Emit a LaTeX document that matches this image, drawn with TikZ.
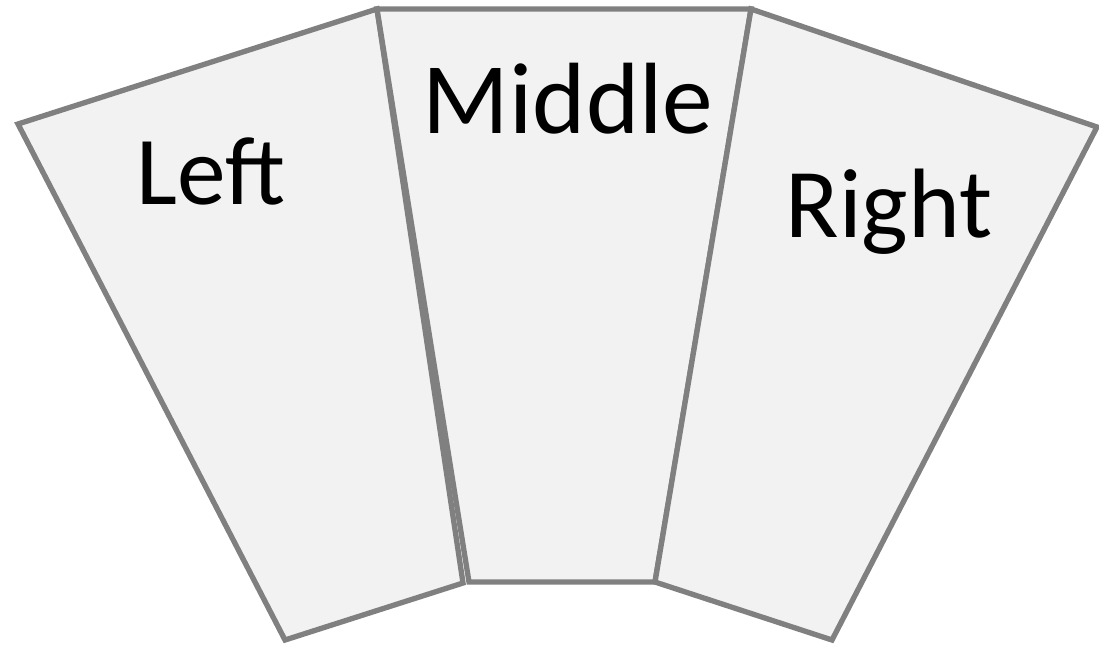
\documentclass[tikz,border=0pt]{standalone}
\usepackage{fontspec}
\setmainfont{Carlito}
\definecolor{panelfill}{RGB}{242,242,242}
\definecolor{paneledge}{RGB}{128,128,128}

\begin{document}
\begin{tikzpicture}[x=0.75pt,y=-0.75pt]
\tikzset{panel/.style={draw=paneledge,fill=panelfill,line width=4pt},
  label/.style={anchor=base,inner sep=0pt,font=\fontsize{#1}{#1}\selectfont}}
\useasboundingbox (0,0) rectangle (1099,647);
\clip (0,0) rectangle (1099,647);
% Left panel
\draw[panel] (18,124) -- (377,9) -- (463,583) -- (285,640) -- cycle;
% Middle panel
\draw[panel] (377,9) -- (751,9) -- (655,582) -- (469,582) -- cycle;
% Right panel
\draw[panel] (751,9) -- (1097,127) -- (832,640) -- (655,582) -- cycle;
% Labels
\node[label=73] (left) at (211,204) {Left};
\node[label=76] (middle) at (568,133) {Middle};
\node[label=74] (right) at (889,237) {Right};
\end{tikzpicture}
\end{document}
